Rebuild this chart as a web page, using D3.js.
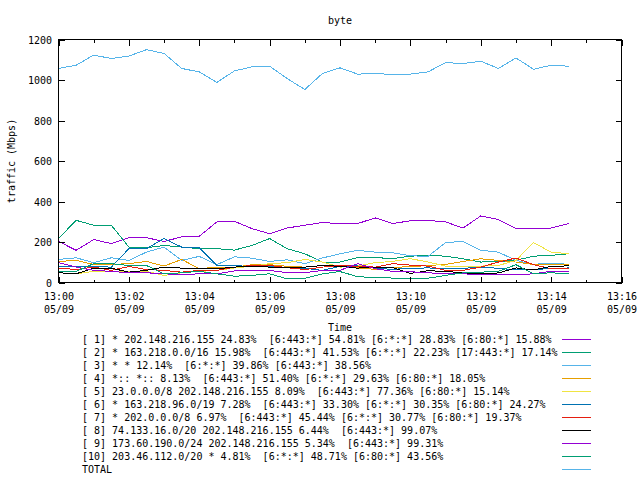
<!DOCTYPE html>
<html><head><meta charset="utf-8">
<script src="https://cdn.jsdelivr.net/npm/d3@7"></script>
<style>
body{margin:0;background:#fff}
svg text{font-family:"DejaVu Sans Mono",monospace;font-size:10px;fill:#000}
</style>
</head><body>
<svg id="c" width="640" height="480"></svg>
<script>
const title = "byte";
const yTitle = "traffic (Mbps)";
const xTitle = "Time";
const dateStr = "2000-05-09";
const times = ["13:00:00","13:00:30","13:01:00","13:01:30","13:02:00","13:02:30","13:03:00","13:03:30","13:04:00","13:04:30","13:05:00","13:05:30","13:06:00","13:06:30","13:07:00","13:07:30","13:08:00","13:08:30","13:09:00","13:09:30","13:10:00","13:10:30","13:11:00","13:11:30","13:12:00","13:12:30","13:13:00","13:13:30","13:14:00","13:14:30"];
const yTicks = [0,200,400,600,800,1000,1200];

const s1 = [203,159,212,192,221,221,203,225,228,299,302,266,241,269,283,296,291,291,319,291,305,307,299,269,329,311,266,266,269,291];
const s2 = [217,307,283,283,175,172,183,175,167,167,160,183,217,167,142,101,101,123,123,118,130,134,130,117,101,104,110,130,134,142];
const s3 = [114,122,98,122,109,150,175,109,129,88,127,120,104,112,93,121,142,159,150,147,132,129,197,203,159,150,109,90,95,90];
const s4 = [104,109,89,89,93,104,81,114,68,76,75,88,88,80,76,84,80,72,65,75,78,84,89,104,117,109,101,89,89,89];
const s5 = [48,43,55,55,55,55,35,48,55,60,72,80,93,98,114,101,76,81,98,104,118,101,81,81,81,84,109,197,150,142];
const s6 = [79,79,79,76,167,167,217,175,172,84,84,78,80,75,70,60,80,82,70,65,70,72,68,70,76,70,62,65,68,72];
const s7 = [71,64,76,60,79,64,60,51,60,60,76,84,84,73,64,76,84,80,76,93,86,81,60,60,76,101,121,88,68,68];
const s8 = [48,43,71,71,51,60,76,71,68,68,76,81,76,76,76,84,80,71,76,74,45,58,55,47,45,47,72,62,80,82];
const s9 = [98,76,60,55,48,48,43,38,43,43,57,60,60,48,48,60,60,93,68,55,53,48,43,43,38,38,38,43,55,55];
const s10 = [55,55,93,93,84,84,43,48,55,43,31,35,43,18,21,43,54,29,24,22,21,21,35,48,51,55,88,43,48,43];
const total = [1057,1073,1123,1106,1118,1150,1131,1057,1040,988,1045,1065,1068,1007,953,1032,1060,1029,1032,1027,1029,1040,1086,1081,1093,1057,1109,1053,1073,1068];

const labels = [
 "[ 1] * 202.148.216.155 24.83%  [6:443:*] 54.81% [6:*:*] 28.83% [6:80:*] 15.88%",
 "[ 2] * 163.218.0.0/16 15.98%  [6:443:*] 41.53% [6:*:*] 22.23% [17:443:*] 17.14%",
 "[ 3] * * 12.14%  [6:*:*] 39.86% [6:443:*] 38.56%",
 "[ 4] *:: *:: 8.13%  [6:443:*] 51.40% [6:*:*] 29.63% [6:80:*] 18.05%",
 "[ 5] 23.0.0.0/8 202.148.216.155 8.09%  [6:443:*] 77.36% [6:80:*] 15.14%",
 "[ 6] * 163.218.96.0/19 7.28%  [6:443:*] 33.30% [6:*:*] 30.35% [6:80:*] 24.27%",
 "[ 7] * 202.0.0.0/8 6.97%  [6:443:*] 45.44% [6:*:*] 30.77% [6:80:*] 19.37%",
 "[ 8] 74.133.16.0/20 202.148.216.155 6.44%  [6:443:*] 99.07%",
 "[ 9] 173.60.190.0/24 202.148.216.155 5.34%  [6:443:*] 99.31%",
 "[10] 203.46.112.0/20 * 4.81%  [6:*:*] 48.71% [6:80:*] 43.56%",
 "TOTAL"
];
const seriesValues = [s1,s2,s3,s4,s5,s6,s7,s8,s9,s10,total];
const colors = ["#9400d3","#009e73","#56b4e9","#e69f00","#f0e442","#0072b2","#e51e10","#000000","#9400d3","#009e73","#56b4e9"];

const parse = d3.timeParse("%Y-%m-%d %H:%M:%S");
const tDates = times.map(t => parse(dateStr + " " + t));
const svg = d3.select("#c");
const L = 58.5, R = 621.5, T = 39.5, B = 282.5;

const x = d3.scaleTime().domain([parse(dateStr+" 13:00:00"), parse(dateStr+" 13:16:00")]).range([L, R]);
const y = d3.scaleLinear().domain([0,1200]).range([B, T]);

// title
svg.append("text").attr("x", (L+R)/2).attr("y", 24).attr("text-anchor","middle").text(title);

// lines
const line = d3.line().x((d,i) => x(tDates[i])).y(d => y(d));
const gl = svg.append("g");
seriesValues.forEach((vals, k) => {
  gl.append("path").datum(vals).attr("d", line).attr("fill","none")
    .attr("stroke", colors[k]).attr("stroke-width",1).attr("shape-rendering","crispEdges");
});

// frame
svg.append("rect").attr("x",L).attr("y",T).attr("width",R-L).attr("height",B-T)
  .attr("fill","none").attr("stroke","#000").attr("stroke-width",1).attr("shape-rendering","crispEdges");

const fmtHM = d3.timeFormat("%H:%M"), fmtMD = d3.timeFormat("%m/%d");
const minuteTicks = d3.timeMinute.every(1);
function styleAxis(g){
  g.select(".domain").remove();
  g.attr("font-family",null).attr("font-size",null);
  g.selectAll("line").attr("stroke","#000").attr("shape-rendering","crispEdges");
  g.selectAll("text").attr("fill","#000");
}
// bottom axis
const gb = svg.append("g").attr("transform",`translate(0,${B})`)
  .call(d3.axisBottom(x).ticks(minuteTicks).tickSize(-6).tickFormat(""));
styleAxis(gb);
gb.selectAll(".tick").each(function(d){
  const g = d3.select(this);
  if (d.getMinutes() % 2) { g.select("line").attr("y2",-3); return; }
  const t = g.select("text").attr("y",null).attr("dy",null).text(null);
  t.append("tspan").attr("x",0).attr("y",17.5).text(fmtHM(d));
  t.append("tspan").attr("x",0).attr("y",30.5).text(fmtMD(d));
});
// top axis
const gt = svg.append("g").attr("transform",`translate(0,${T})`)
  .call(d3.axisTop(x).ticks(minuteTicks).tickSize(-6).tickFormat(""));
styleAxis(gt);
gt.selectAll(".tick").each(function(d){ if (d.getMinutes()%2) d3.select(this).select("line").attr("y2",3); });
// left axis
const gy = svg.append("g").attr("transform",`translate(${L},0)`)
  .call(d3.axisLeft(y).tickValues(yTicks).tickSize(-6).tickPadding(6.5).tickFormat(d3.format("d")));
styleAxis(gy);
gy.selectAll("text").attr("dy","0.35em");
// right axis
const gr = svg.append("g").attr("transform",`translate(${R},0)`)
  .call(d3.axisRight(y).tickValues(yTicks).tickSize(-6).tickFormat(""));
styleAxis(gr);

// axis titles
svg.append("text").attr("transform",`translate(15,${(T+B)/2}) rotate(-90)`).attr("text-anchor","middle").text(yTitle);
svg.append("text").attr("x",(L+R)/2).attr("y",331).attr("text-anchor","middle").text(xTitle);

// legend
const lg = svg.append("g");
labels.forEach((lab,i) => {
  lg.append("text").attr("x",82).attr("y",343+13*i).attr("xml:space","preserve").style("white-space","pre").text(lab);
  lg.append("line").attr("x1",562).attr("x2",591).attr("y1",339.5+13*i).attr("y2",339.5+13*i)
    .attr("stroke",colors[i]).attr("stroke-width",1).attr("shape-rendering","crispEdges");
});
</script>
</body></html>
